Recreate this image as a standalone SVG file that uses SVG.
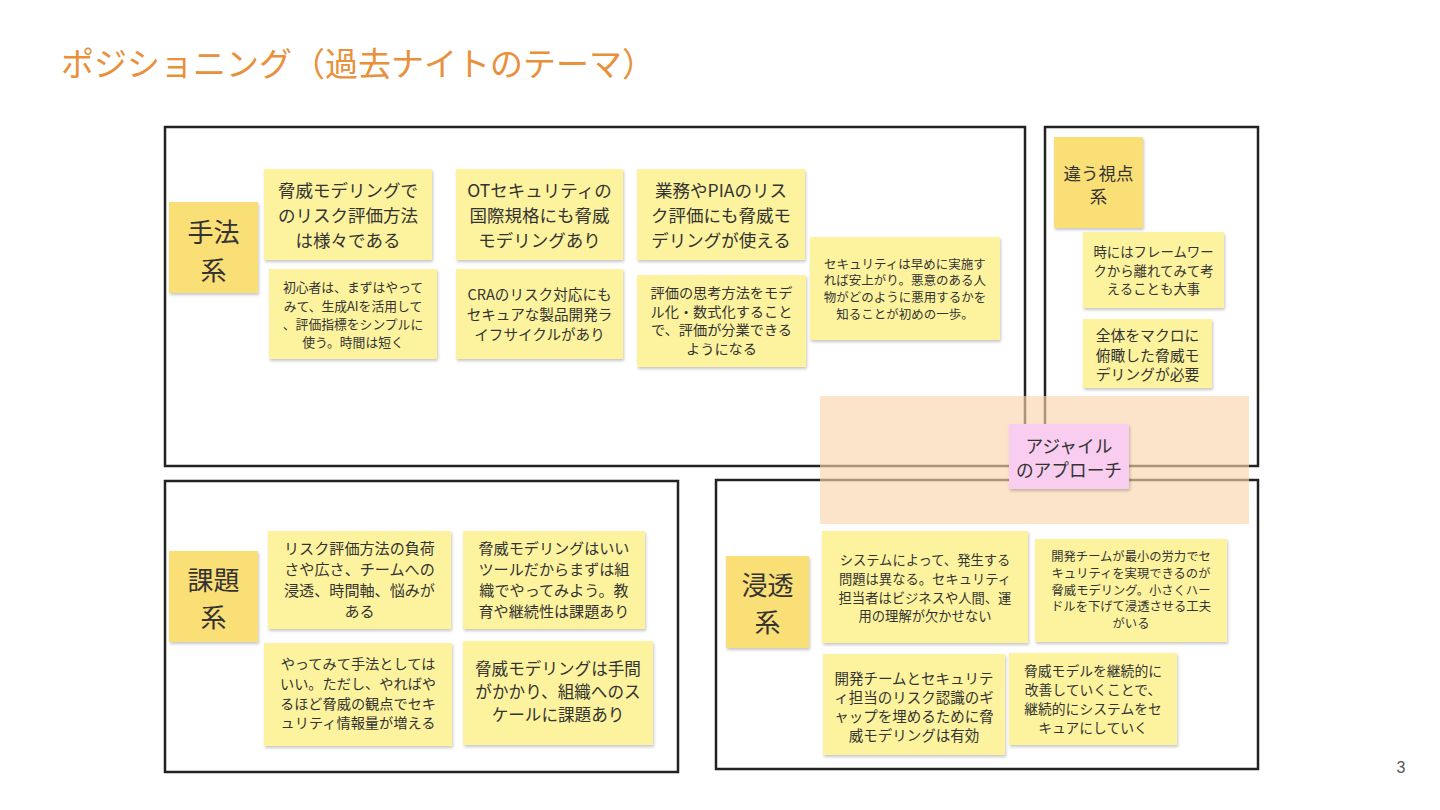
<svg xmlns="http://www.w3.org/2000/svg" width="1440" height="810" viewBox="0 0 1440 810">
<defs>
<filter id="sh" x="-10%" y="-10%" width="125%" height="130%">
<feDropShadow dx="1" dy="2" stdDeviation="1.5" flood-color="#000" flood-opacity="0.22"/>
</filter>
<style>
text{font-family:"Noto Sans CJK JP","Noto Sans",sans-serif;fill:#333;text-anchor:middle;dominant-baseline:central}
.n{fill:#fdf39e;filter:url(#sh)}
.l{fill:#fade76;filter:url(#sh)}
.p{fill:#f8cdef;filter:url(#sh)}
.f{fill:none;stroke:#222;stroke-width:2.5}
</style>
</defs>
<rect width="1440" height="810" fill="#fff"/>
<text x="61" y="62" style="font-size:33px;fill:#e8903a;text-anchor:start">ポジショニング（過去ナイトのテーマ）</text>
<text x="1401" y="767" style="font-family:'Liberation Sans',sans-serif;font-size:16px;fill:#555">3</text>

<g id="frames">
<rect class="f" x="165" y="127" width="860" height="339"/>
<rect class="f" x="1045" y="127" width="213" height="339"/>
<rect class="f" x="165" y="481" width="513" height="291"/>
<rect class="f" x="716" y="480" width="542" height="289"/>
</g>

<g id="g-shuho">
<rect class="l" x="169" y="202" width="89" height="91"/>
<text style="font-size:26px"><tspan x="213.5" y="230">手法</tspan><tspan x="213.5" y="268">系</tspan></text>
</g>
<g id="n-a">
<rect class="n" x="264" y="169" width="168" height="91"/>
<text style="font-size:17.5px"><tspan x="348" y="189">脅威モデリングで</tspan><tspan x="348" y="214">のリスク評価方法</tspan><tspan x="348" y="239">は様々である</tspan></text>
</g>
<g id="n-b">
<rect class="n" x="269" y="269" width="168" height="90"/>
<text style="font-size:12.8px"><tspan x="353" y="286">初心者は、まずはやって</tspan><tspan x="353" y="305">みて、生成AIを活用して</tspan><tspan x="353" y="323">、評価指標をシンプルに</tspan><tspan x="353" y="341">使う。時間は短く</tspan></text>
</g>
<g id="n-c">
<rect class="n" x="456" y="169" width="167" height="91"/>
<text style="font-size:17.5px"><tspan x="539.5" y="189">OTセキュリティの</tspan><tspan x="539.5" y="214">国際規格にも脅威</tspan><tspan x="539.5" y="239">モデリングあり</tspan></text>
</g>
<g id="n-d">
<rect class="n" x="456" y="269" width="167" height="90"/>
<text style="font-size:14.6px"><tspan x="539.5" y="293">CRAのリスク対応にも</tspan><tspan x="539.5" y="313">セキュアな製品開発ラ</tspan><tspan x="539.5" y="333">イフサイクルがあり</tspan></text>
</g>
<g id="n-e">
<rect class="n" x="637" y="169" width="168" height="91"/>
<text style="font-size:17.5px"><tspan x="721" y="189">業務やPIAのリス</tspan><tspan x="721" y="214">ク評価にも脅威モ</tspan><tspan x="721" y="239">デリングが使える</tspan></text>
</g>
<g id="n-f">
<rect class="n" x="637" y="275" width="169" height="92"/>
<text style="font-size:14.2px"><tspan x="721.5" y="292">評価の思考方法をモデ</tspan><tspan x="721.5" y="310.5">ル化・数式化すること</tspan><tspan x="721.5" y="329">で、評価が分業できる</tspan><tspan x="721.5" y="347.5">ようになる</tspan></text>
</g>
<g id="n-g">
<rect class="n" x="810" y="237" width="190" height="103"/>
<text style="font-size:12.5px"><tspan x="905" y="262.5">セキュリティは早めに実施す</tspan><tspan x="905" y="279.3">れば安上がり。悪意のある人</tspan><tspan x="905" y="296.1">物がどのように悪用するかを</tspan><tspan x="905" y="312.9">知ることが初めの一歩。</tspan></text>
</g>

<g id="g-chigau">
<rect class="l" x="1054" y="137" width="89" height="91"/>
<text style="font-size:17.5px"><tspan x="1098.5" y="172">違う視点</tspan><tspan x="1098.5" y="195">系</tspan></text>
</g>
<g id="n-h">
<rect class="n" x="1083" y="232" width="141" height="76"/>
<text style="font-size:13.4px"><tspan x="1153.5" y="251">時にはフレームワー</tspan><tspan x="1153.5" y="270">クから離れてみて考</tspan><tspan x="1153.5" y="288">えることも大事</tspan></text>
</g>
<g id="n-i">
<rect class="n" x="1083" y="319" width="129" height="69"/>
<text style="font-size:14.8px"><tspan x="1147.5" y="334">全体をマクロに</tspan><tspan x="1147.5" y="354">俯瞰した脅威モ</tspan><tspan x="1147.5" y="373">デリングが必要</tspan></text>
</g>

<g id="g-kadai">
<rect class="l" x="169" y="551" width="89" height="91"/>
<text style="font-size:26px"><tspan x="213.5" y="578">課題</tspan><tspan x="213.5" y="615">系</tspan></text>
</g>
<g id="n-j">
<rect class="n" x="268" y="531" width="183" height="98"/>
<text style="font-size:15.1px"><tspan x="359.5" y="547">リスク評価方法の負荷</tspan><tspan x="359.5" y="568">さや広さ、チームへの</tspan><tspan x="359.5" y="589">浸透、時間軸、悩みが</tspan><tspan x="359.5" y="610">ある</tspan></text>
</g>
<g id="n-k">
<rect class="n" x="463" y="531" width="182" height="98"/>
<text style="font-size:15.1px"><tspan x="554" y="547">脅威モデリングはいい</tspan><tspan x="554" y="568">ツールだからまずは組</tspan><tspan x="554" y="589">織でやってみよう。教</tspan><tspan x="554" y="610">育や継続性は課題あり</tspan></text>
</g>
<g id="n-l">
<rect class="n" x="264" y="643" width="188" height="103"/>
<text style="font-size:14.2px"><tspan x="358" y="663">やってみて手法としては</tspan><tspan x="358" y="683">いい。ただし、やればや</tspan><tspan x="358" y="703">るほど脅威の観点でセキ</tspan><tspan x="358" y="722">ュリティ情報量が増える</tspan></text>
</g>
<g id="n-m">
<rect class="n" x="463" y="641" width="190" height="104"/>
<text style="font-size:16.6px"><tspan x="558" y="668">脅威モデリングは手間</tspan><tspan x="558" y="691">がかかり、組織へのス</tspan><tspan x="558" y="714">ケールに課題あり</tspan></text>
</g>

<g id="g-shinto">
<rect class="l" x="726" y="556" width="83" height="92"/>
<text style="font-size:26px"><tspan x="767.5" y="583">浸透</tspan><tspan x="767.5" y="620">系</tspan></text>
</g>
<g id="n-n">
<rect class="n" x="822" y="531" width="206" height="112"/>
<text style="font-size:13.3px"><tspan x="925" y="559">システムによって、発生する</tspan><tspan x="925" y="578">問題は異なる。セキュリティ</tspan><tspan x="925" y="597">担当者はビジネスや人間、運</tspan><tspan x="925" y="615">用の理解が欠かせない</tspan></text>
</g>
<g id="n-o">
<rect class="n" x="1035" y="539" width="192" height="103"/>
<text style="font-size:12.3px"><tspan x="1131" y="556">開発チームが最小の労力でセ</tspan><tspan x="1131" y="572.8">キュリティを実現できるのが</tspan><tspan x="1131" y="589.6">脅威モデリング。小さくハー</tspan><tspan x="1131" y="606.4">ドルを下げて浸透させる工夫</tspan><tspan x="1131" y="623.2">がいる</tspan></text>
</g>
<g id="n-p">
<rect class="n" x="823" y="654" width="182" height="101"/>
<text style="font-size:14.5px"><tspan x="914" y="677">開発チームとセキュリテ</tspan><tspan x="914" y="696">ィ担当のリスク認識のギ</tspan><tspan x="914" y="715">ャップを埋めるために脅</tspan><tspan x="914" y="734">威モデリングは有効</tspan></text>
</g>
<g id="n-q">
<rect class="n" x="1009" y="653" width="168" height="92"/>
<text style="font-size:13.8px"><tspan x="1093" y="670">脅威モデルを継続的に</tspan><tspan x="1093" y="689">改善していくことで、</tspan><tspan x="1093" y="708">継続的にシステムをセ</tspan><tspan x="1093" y="727">キュアにしていく</tspan></text>
</g>

<g id="agile">
<rect x="820" y="396" width="429" height="128" fill="#fad4ac" fill-opacity="0.64"/>
<rect class="p" x="1009" y="424" width="120" height="65"/>
<text style="font-size:17.7px"><tspan x="1069" y="445">アジャイル</tspan><tspan x="1069" y="469">のアプローチ</tspan></text>
</g>
</svg>
